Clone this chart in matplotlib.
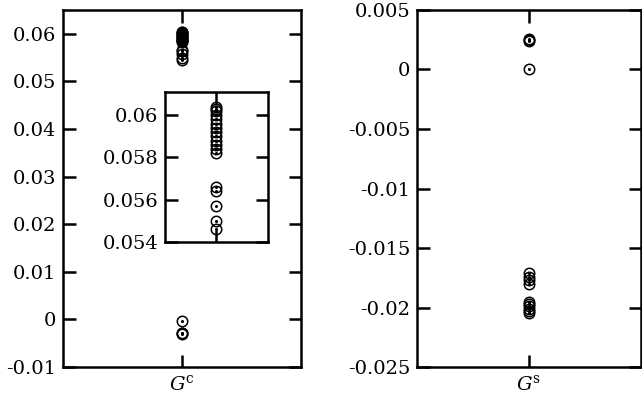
import numpy as np
import matplotlib
matplotlib.use("Agg")
import matplotlib.pyplot as plt
from matplotlib.ticker import FuncFormatter

plt.rcParams['font.family'] = ['DejaVu Serif']
plt.rcParams['mathtext.fontset'] = 'dejavuserif'
plt.rcParams['axes.unicode_minus'] = False
plt.rcParams['font.size'] = 14

# data
gc_vals = [0.0604, 0.0603, 0.0602, 0.0600, 0.0598, 0.0596, 0.0594, 0.0592,
           0.0590, 0.0588, 0.0586, 0.0584, 0.0582, 0.0566, 0.0564, 0.0557,
           0.0550, 0.0546, -0.0003, -0.0028, -0.0029, -0.0030]
gs_vals = [0.0024, 0.0025, 0.0026, 0.0000, -0.0171, -0.0174, -0.0177,
           -0.0180, -0.0195, -0.0197, -0.0199, -0.0201, -0.0203, -0.0205]

left_ticks = [-0.01, 0, 0.01, 0.02, 0.03, 0.04, 0.05, 0.06]
inset_ticks = [0.054, 0.056, 0.058, 0.06]
right_ticks = [-0.025, -0.02, -0.015, -0.01, -0.005, 0, 0.005]

fmt = FuncFormatter(lambda v, p: '%g' % round(v, 6))


def style(ax, label):
    for s in ax.spines.values():
        s.set_linewidth(1.8)
    ax.tick_params(direction='in', length=9, width=1.8, top=True, right=True, pad=5)
    ax.set_xticks([0])
    ax.set_xticklabels([label])
    ax.set_xlim(-1, 1)
    ax.yaxis.set_major_formatter(fmt)


def points(ax, vals):
    x = np.zeros(len(vals))
    ax.plot(x, vals, 'o', mfc='none', mec='black', ms=7.5, mew=1.1, ls='none')
    ax.plot(x, vals, 'o', color='black', ms=1.2, ls='none')


fig = plt.figure(figsize=(6.42, 4.03), dpi=100)

ax1 = fig.add_axes([0.0981, 0.0893, 0.3707, 0.8859])
points(ax1, gc_vals)
ax1.set_ylim(-0.01, 0.065)
ax1.set_yticks(left_ticks)
style(ax1, r'$G^{\rm c}$')

ins = fig.add_axes([0.257, 0.3995, 0.1604, 0.3722])
points(ins, gc_vals)
ins.set_ylim(0.054, 0.0611)
ins.set_yticks(inset_ticks)
style(ins, '')
ins.set_xticklabels([])

ax2 = fig.add_axes([0.6495, 0.0893, 0.3490, 0.8859])
points(ax2, gs_vals)
ax2.set_ylim(-0.025, 0.005)
ax2.set_yticks(right_ticks)
style(ax2, r'$G^{\rm s}$')

fig.savefig('out.png', dpi=100)
